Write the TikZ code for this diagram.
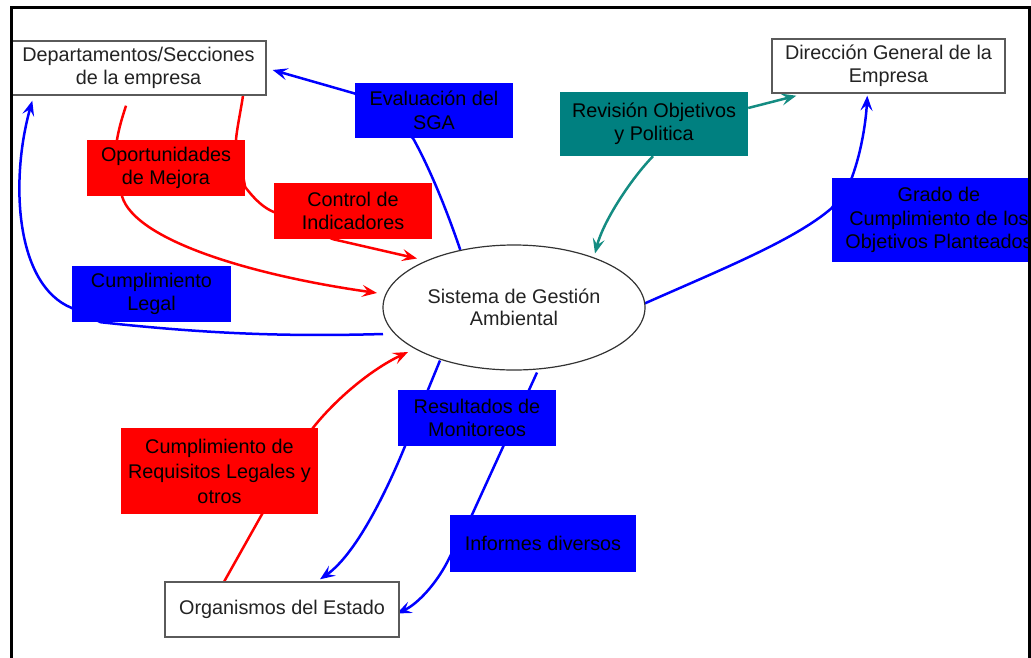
\documentclass[tikz,border=0pt]{standalone}
\usepackage{fontspec}
\setmainfont{Liberation Sans}
\usetikzlibrary{calc,arrows.meta,backgrounds,shapes.geometric}
\definecolor{pblue}{RGB}{0,0,255}
\definecolor{pred}{RGB}{255,0,0}
\definecolor{pteal}{RGB}{0,128,128}
\definecolor{lteal}{RGB}{20,140,130}
\definecolor{bordergray}{RGB}{90,90,90}
\definecolor{txtgray}{RGB}{35,35,35}
\tikzset{
  txt/.style={font=\fontsize{19.8}{23.5}\selectfont, align=center, inner sep=0pt},
  wbox/.style={txt, draw=bordergray, line width=1.4pt, fill=white, text=txtgray},
  cbox/.style={txt, text=black},
  conn/.style={line width=2.5pt},
  tip/.style={-{Stealth[length=15pt,width=12pt,inset=6pt]}},
}
\begin{document}
\begin{tikzpicture}[x=1pt,y=-1pt]
\useasboundingbox (0,0) rectangle (1031,657);
\clip (0,0) rectangle (1031,657);

% nodes
\node[wbox, minimum width=255pt, minimum height=54pt] (dept) at (138.5,68) {Departamentos/Secciones\\de la empresa};
\node[wbox, minimum width=233pt, minimum height=54pt] (dir) at (888.5,66) {Dirección General de la\\Empresa};
\node[wbox, minimum width=234pt, minimum height=55pt] (org) at (282,609.5) {Organismos del Estado};
\node[txt, ellipse, draw=black!80, line width=1.2pt, fill=white, text=txtgray,
      minimum width=262pt, minimum height=125pt, font=\fontsize{19.8}{22.5}\selectfont] (ell) at (514,307.5) {Sistema de Gestión\\Ambiental};

\node[cbox, fill=pblue, minimum width=158pt, minimum height=55pt] (eval) at (434,110.5) {Evaluación del\\SGA};
\node[cbox, fill=pred, minimum width=158pt, minimum height=56pt] (oport) at (166,168) {Oportunidades\\de Mejora};
\node[cbox, fill=pred, minimum width=158pt, minimum height=56pt] (ctrl) at (353,211) {Control de\\Indicadores};
\node[cbox, fill=pblue, minimum width=159pt, minimum height=56pt] (cleg) at (151.5,294) {Cumplimiento\\Legal};
\node[cbox, fill=pteal, minimum width=188pt, minimum height=64pt] (rev) at (654,124) {Revisión Objetivos\\y Politica};
\node[cbox, fill=pblue, minimum width=214pt, minimum height=84pt] (grado) at (939,220) {Grado de\\Cumplimiento de los\\Objetivos Planteados};
\node[cbox, fill=pblue, minimum width=158pt, minimum height=56pt] (res) at (477,418) {Resultados de\\Monitoreos};
\node[cbox, fill=pblue, minimum width=186pt, minimum height=57pt] (inf) at (543,543.5) {Informes diversos};
\node[cbox, fill=pred, minimum width=197pt, minimum height=86pt, font=\fontsize{19.8}{25}\selectfont] (req) at (219.5,471) {Cumplimiento de\\Requisitos Legales y\\otros};

\begin{pgfonlayer}{background}
% Evaluacion del SGA
\draw[conn, pblue, tip] (ell.133) .. controls (445,205) and (428,165) .. ($(eval.south)+(-21,0)$)
   -- ($(eval.west)+(0,-17)$) -- ($(dept.east)+(6,2)$);
% Oportunidades de Mejora
\draw[conn, pred, tip] ($(dept.south)+(-12.5,10)$) .. controls (122,118) and (119,128) .. ($(oport.north)+(-49,0)$)
   -- ($(oport.south)+(-44,0)$) .. controls (135,240) and (250,275) .. ($(ell.center)+(-137,-14.5)$);
% Control de Indicadores
\draw[conn, pred, tip] ($(dept.south)+(104.5,0)$) .. controls (240,115) and (237,128) .. ($(oport.north)+(70,0)$)
   -- ($(oport.east)+(0,19)$) .. controls (255,200) and (264,208) .. ($(ctrl.west)+(0,1)$)
   -- ($(ctrl.south)+(-20,0)$) -- ($(ell.center)+(-97,-49)$);
% Cumplimiento Legal
\draw[conn, pblue, tip] ($(ell.center)+(-131,26.5)$) .. controls (280,337) and (200,333) .. ($(cleg.south)+(-51,0)$)
   -- ($(cleg.west)+(0,14)$) .. controls (15,285) and (10,180) .. ($(dept.south west)+(22,5)$);
% Revision Objetivos y Politica
\draw[conn, lteal, tip] ($(rev.east)+(0,-16)$) -- ($(dir.south west)+(25,2)$);
\draw[conn, lteal, tip] ($(rev.south)+(-1,0)$) .. controls (630,180) and (603,222) .. ($(ell.center)+(81,-54)$);
% Grado de Cumplimiento
\draw[conn, pblue, tip] ($(ell.east)+(-1,-4)$) .. controls (720,270) and (795,240) .. ($(grado.west)+(0,-12)$)
   -- ($(grado.north west)+(20,0)$) .. controls (862,150) and (866,120) .. ($(dir.south west)+(96,2)$);
% Cumplimiento de Requisitos
\draw[conn, pred, tip] ($(org.north west)+(60,0)$) -- ($(req.south)+(42.5,0)$) -- ($(req.north)+(93.5,0)$)
   .. controls (335,400) and (370,370) .. ($(ell.center)+(-106,44.5)$);
% Resultados de Monitoreos
\draw[conn, pblue, tip] ($(ell.center)+(-74,53)$) -- ($(res.north)+(-49,0)$) -- ($(res.south)+(-72,0)$)
   .. controls (385,495) and (355,555) .. ($(org.north)+(38,-2)$);
% Informes diversos
\draw[conn, pblue, tip] ($(ell.center)+(23,65)$) -- ($(inf.north)+(-71,0)$) -- ($(inf.west)+(0,13.5)$)
   .. controls (438,582) and (418,604) .. ($(org.east)+(-3,4)$);
\end{pgfonlayer}

% frame
\draw[line width=3pt, black] (11,680) -- (11,7) -- (1029,7) -- (1029,680);
\end{tikzpicture}
\end{document}
